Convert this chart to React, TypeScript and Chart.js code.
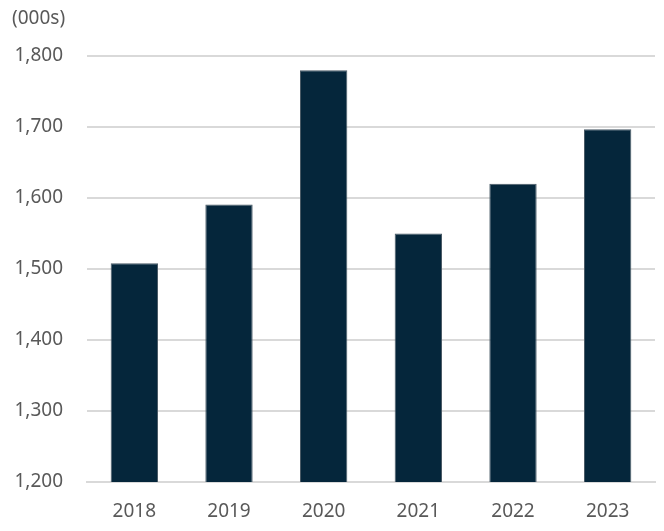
import React, { useEffect, useRef } from "react";
import { Chart, registerables } from "chart.js";

Chart.register(...registerables);

const categories = ["2018", "2019", "2020", "2021", "2022", "2023"];
const values = [1508, 1591, 1780, 1550, 1620, 1697];
const unitLabel = "(000s)";
const yMin = 1200;
const yMax = 1800;
const yStep = 100;

const FONT = "'Noto Sans', sans-serif";
const TEXT = "#595959";

export default function App() {
  const ref = useRef<HTMLCanvasElement | null>(null);
  useEffect(() => {
    document.body.style.margin = "0";
    if (!ref.current) return;
    const unitPlugin = {
      id: "unitLabel",
      afterDraw(chart: any) {
        const ctx = chart.ctx;
        ctx.save();
        ctx.font = `19px ${FONT}`;
        ctx.fillStyle = TEXT;
        ctx.textBaseline = "middle";
        ctx.textAlign = "left";
        ctx.fillText(unitLabel, 12, 19);
        ctx.restore();
      },
    };
    const chart = new Chart(ref.current, {
      type: "bar",
      data: {
        labels: categories,
        datasets: [
          {
            data: values,
            backgroundColor: "#05263b",
            borderColor: "#4a5a66",
            borderWidth: 1,
            barPercentage: 0.5,
            categoryPercentage: 1,
          },
        ],
      },
      options: {
        animation: false,
        responsive: false,
        layout: { padding: { left: 10, right: 9, top: 56, bottom: 0 } },
        plugins: { legend: { display: false }, tooltip: { enabled: false }, title: { display: false } },
        scales: {
          x: {
            grid: { display: false },
            border: { display: true, color: "#d9d9d9", width: 2 },
            ticks: { color: TEXT, font: { family: FONT, size: 19 }, padding: 10 },
            afterFit(scale: any) {
              scale.height = 49;
            },
          },
          y: {
            min: yMin,
            max: yMax,
            border: { display: false },
            grid: { color: "#d9d9d9", lineWidth: 2, drawTicks: false },
            ticks: {
              stepSize: yStep,
              color: TEXT,
              font: { family: FONT, size: 19 },
              padding: 24,
              callback: (v: any) => Number(v).toLocaleString("en-US"),
            },
            afterFit(scale: any) {
              scale.width = 77;
            },
          },
        },
      },
      plugins: [unitPlugin],
    });
    return () => chart.destroy();
  }, []);
  return <canvas ref={ref} width={664} height={531} style={{ display: "block" }} />;
}
